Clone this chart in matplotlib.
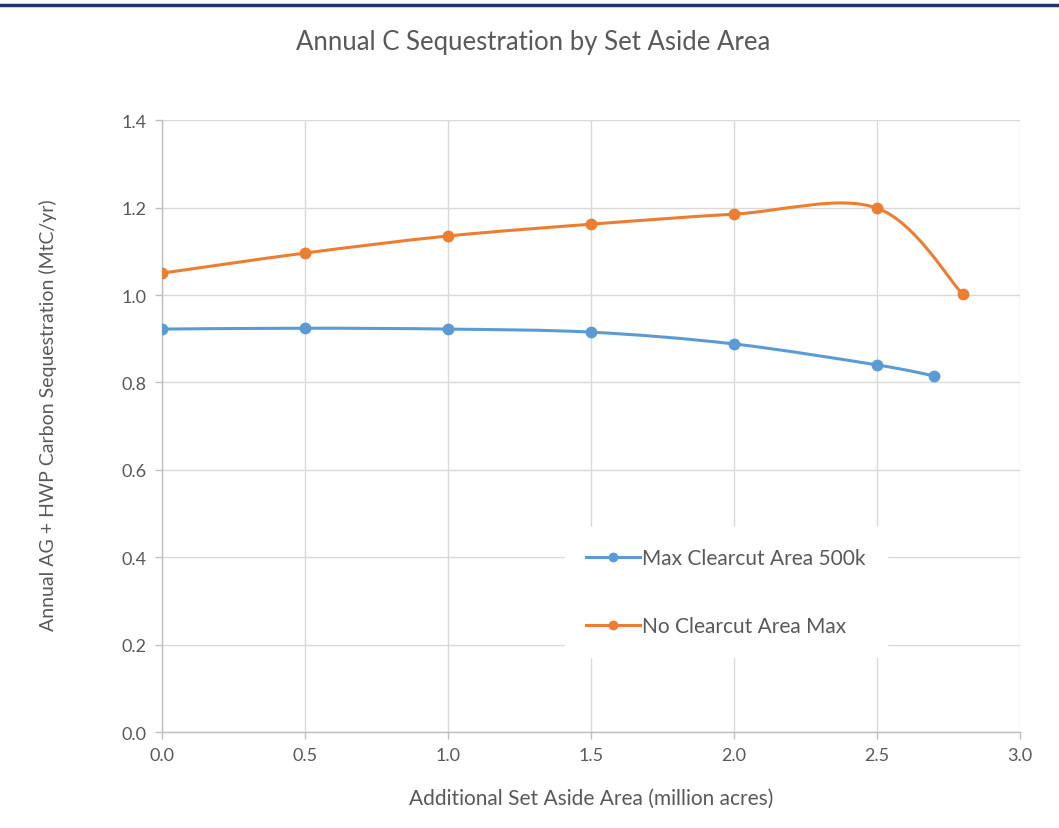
import matplotlib.pyplot as plt
from matplotlib.path import Path
from matplotlib.patches import PathPatch
from matplotlib.lines import Line2D

plt.rcParams['font.family'] = ['Lato', 'DejaVu Sans']

# data
area_blue = [0.0, 0.5, 1.0, 1.5, 2.0, 2.5, 2.7]
seq_blue = [0.922, 0.924, 0.922, 0.915, 0.888, 0.840, 0.815]
area_orange = [0.0, 0.5, 1.0, 1.5, 2.0, 2.5, 2.8]
seq_orange = [1.050, 1.096, 1.135, 1.162, 1.185, 1.199, 1.002]

labels = ['Max Clearcut Area 500k', 'No Clearcut Area Max']
colors = ['#5B9BD5', '#ED7D31']
grey = '#595959'


def smooth_path(xs, ys):
    # excel style smoothed line: cubic bezier with 1/6 tangent control points
    n = len(xs)
    verts = [(xs[0], ys[0])]
    codes = [Path.MOVETO]
    for i in range(n - 1):
        p0 = max(i - 1, 0)
        p3 = min(i + 2, n - 1)
        c1 = (xs[i] + (xs[i + 1] - xs[p0]) / 6, ys[i] + (ys[i + 1] - ys[p0]) / 6)
        c2 = (xs[i + 1] - (xs[p3] - xs[i]) / 6, ys[i + 1] - (ys[p3] - ys[i]) / 6)
        verts += [c1, c2, (xs[i + 1], ys[i + 1])]
        codes += [Path.CURVE4] * 3
    return Path(verts, codes)


fig = plt.figure(figsize=(10.59, 8.29), dpi=100)
ax = fig.add_axes([0.153, 0.1158, 0.81, 0.738])

for xs, ys, c in [(area_blue, seq_blue, colors[0]), (area_orange, seq_orange, colors[1])]:
    ax.add_patch(PathPatch(smooth_path(xs, ys), facecolor='none', edgecolor=c,
                           lw=2.2, capstyle='round', zorder=3))
    ax.plot(xs, ys, ls='none', marker='o', ms=7.5, color=c, zorder=4)

ax.set_xlim(0, 3.0)
ax.set_ylim(0, 1.4)
ax.set_xticks([0, 0.5, 1.0, 1.5, 2.0, 2.5, 3.0])
ax.set_yticks([0, 0.2, 0.4, 0.6, 0.8, 1.0, 1.2, 1.4])
ax.xaxis.set_major_formatter(plt.FormatStrFormatter('%.1f'))
ax.yaxis.set_major_formatter(plt.FormatStrFormatter('%.1f'))
ax.grid(True, color='#D9D9D9', lw=1.0)
ax.set_axisbelow(True)
for s in ['top', 'right']:
    ax.spines[s].set_visible(False)
for s in ['left', 'bottom']:
    ax.spines[s].set_color('#BFBFBF')
    ax.spines[s].set_linewidth(1.0)
ax.tick_params(colors='#BFBFBF', labelcolor=grey, labelsize=13, length=5, width=1.0, pad=6)

fig.text(0.503, 0.949, 'Annual C Sequestration by Set Aside Area', fontsize=18.5,
         color=grey, ha='center', va='center')
ax.set_xlabel('Additional Set Aside Area (million acres)', fontsize=15, color=grey, labelpad=18)
ax.set_ylabel('Annual AG + HWP Carbon Sequestration (MtC/yr)', fontsize=14, color=grey)
ax.yaxis.set_label_coords(-0.122, 0.52)

handles = [Line2D([], [], color=c, lw=2.2, marker='o', ms=6) for c in colors]
leg = ax.legend(handles, labels, loc='upper left', bbox_to_anchor=(0.47, 0.335),
                frameon=True, fontsize=15, labelspacing=2.3, handlelength=2.6,
                handletextpad=0.1, borderpad=1.0, borderaxespad=0)
leg.get_frame().set_facecolor('white')
leg.get_frame().set_edgecolor('white')
leg.get_frame().set_alpha(1.0)
for t in leg.get_texts():
    t.set_color(grey)

# dark band along the top edge
fig.add_artist(Line2D([0, 1], [0.9925, 0.9925], color='#1F3A64', lw=2.5,
                      transform=fig.transFigure))

plt.savefig('out.png', dpi=100)
